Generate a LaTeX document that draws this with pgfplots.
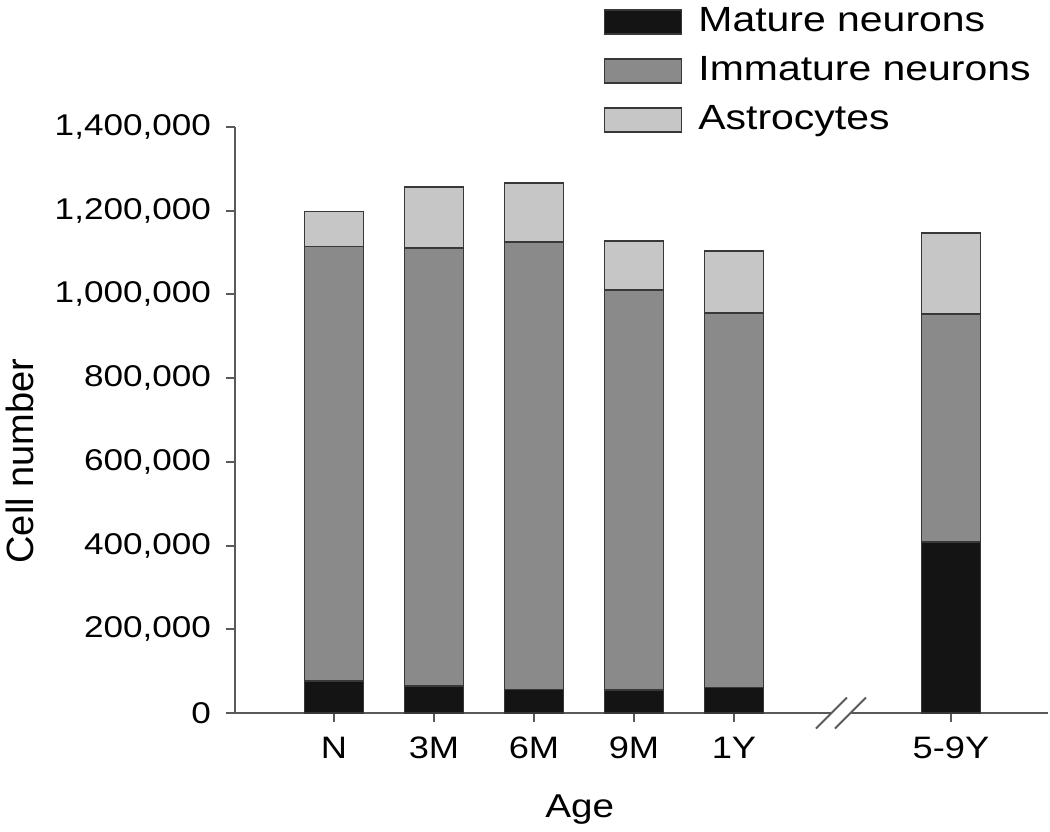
\documentclass[border=0pt]{standalone}
\usepackage{pgfplots}
\pgfplotsset{compat=1.18}
\usepackage{fontspec}
\setmainfont{Liberation Sans}[FakeStretch=1.17]
\newfontfamily\plainsans{Liberation Sans}

\definecolor{mature}{HTML}{141414}
\definecolor{immature}{HTML}{8A8A8A}
\definecolor{astro}{HTML}{C6C6C6}
\definecolor{edge}{HTML}{383838}
\definecolor{axisgray}{HTML}{5A5A5A}

\begin{document}
\begin{tikzpicture}
\begin{axis}[
  scale only axis,
  width=406.5pt, height=293pt,
  ybar stacked, bar width=0.59,
  xmin=-0.99, xmax=7.14,
  ymin=0, ymax=1400000,
  axis x line=bottom, axis y line=left,
  axis line style={-, draw=axisgray, line width=1pt},
  every tick/.style={draw=axisgray, line width=1pt},
  tick align=outside, major tick length=4.5pt,
  xtick={0,1,2,3,4,6.17},
  xticklabels={N,3M,6M,9M,1Y,5-9Y},
  ytick={0,200000,400000,600000,800000,1000000,1200000,1400000},
  scaled y ticks=false,
  /pgf/number format/assume math mode=true,
  yticklabel style={/pgf/number format/fixed, /pgf/number format/1000 sep={,}, xshift=-4pt,
    font=\fontsize{15}{18}\selectfont},
  xticklabel style={yshift=-4pt, font=\fontsize{15.5}{18}\selectfont},
  xlabel={Age},
  xlabel style={font=\fontsize{16.5}{19}\selectfont, at={(axis description cs:0.424,-0.128)}, anchor=north},
  ylabel={Cell number},
  ylabel style={font=\plainsans\fontsize{19}{22}\selectfont, at={(axis description cs:-0.29,0.43)}, anchor=north},
  legend style={at={(axis description cs:0.453,1.212)}, anchor=north west,
    draw=none, fill=none, inner sep=0pt,
    font=\fontsize{17.5}{20}\selectfont, row sep=5.5pt,
    nodes={inner sep=1pt, text height=13pt, text depth=4pt}},
  legend cell align=left,
  legend image code/.code={\path[draw=none, fill=none] (0pt,0pt) rectangle (46pt,0.1pt);
    \draw[#1, draw=edge, line width=0.75pt] (0pt,-6pt) rectangle (38.5pt,6pt);},
  every axis plot/.append style={draw=edge, line width=0.8pt},
]
\addplot[fill=mature] coordinates {(0,76500) (1,64500) (2,56600) (3,55000) (4,61400) (6.17,408700)};
\addplot[fill=immature] coordinates {(0,1037900) (1,1046100) (2,1069100) (3,956000) (4,893800) (6.17,544300)};
\addplot[fill=astro] coordinates {(0,83600) (1,146400) (2,140300) (3,116000) (4,148800) (6.17,193500)};
\legend{Mature neurons, Immature neurons, Astrocytes}
\coordinate (b1) at (axis cs:4.975,0);
\coordinate (b2) at (axis cs:5.165,0);
\coordinate (bl) at (axis description cs:-0.289,-0.203);
\coordinate (tr) at (axis description cs:1.0025,1.2167);
\end{axis}
\fill[white] ([yshift=-1.5pt]b1) rectangle ([yshift=1.5pt]b2);
\draw[axisgray, line width=1pt] ([xshift=-7.75pt,yshift=-7.75pt]b1) -- ([xshift=7.75pt,yshift=7.75pt]b1);
\draw[axisgray, line width=1pt] ([xshift=-7.75pt,yshift=-7.75pt]b2) -- ([xshift=7.75pt,yshift=7.75pt]b2);
\pgfresetboundingbox
\path (bl) rectangle (tr);
\end{tikzpicture}
\end{document}
